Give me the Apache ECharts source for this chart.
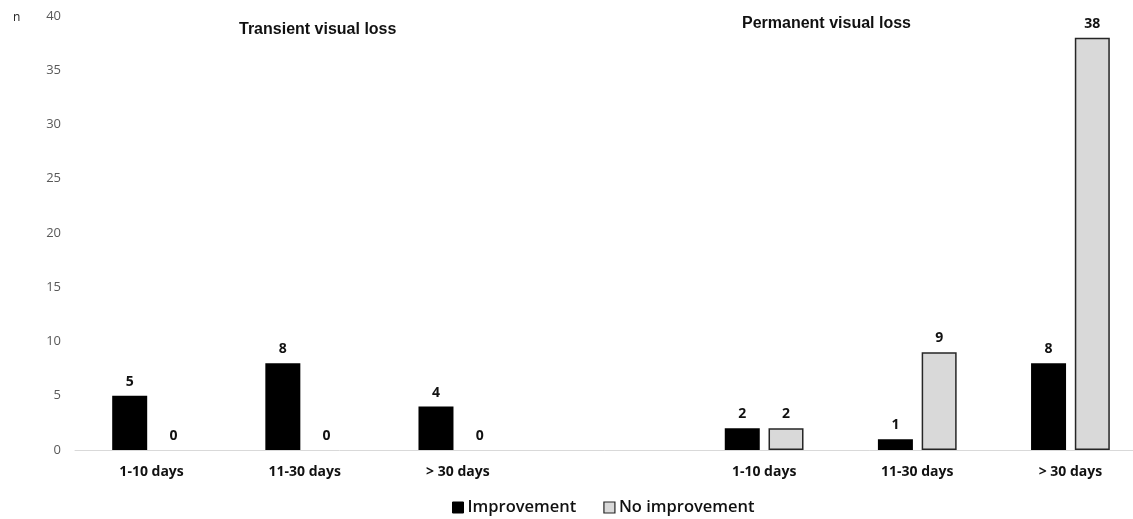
<!DOCTYPE html>
<html>
<head>
<meta charset="utf-8">
<script src="https://cdn.jsdelivr.net/npm/echarts@6/dist/echarts.min.js"></script>
<style>
html,body{margin:0;padding:0;background:#fff;}
#chart{width:1133px;height:519px;}
</style>
</head>
<body>
<div id="chart"></div>
<script>
var categories = ['1-10 days', '11-30 days', '> 30 days', '', '1-10 days', '11-30 days', '> 30 days'];
var improvement = [5, 8, 4, null, 2, 1, 8];
var noImprovement = [0, 0, 0, null, 2, 9, 38];
var yTicks = [0, 5, 10, 15, 20, 25, 30, 35, 40];
var groupTitles = ['Transient visual loss', 'Permanent visual loss'];

var chart = echarts.init(document.getElementById('chart'));
var labelStyle = {
  show: true, position: 'top', distance: 7,
  fontFamily: 'Open Sans', fontWeight: 'bold', fontSize: 14, color: '#111'
};
chart.setOption({
  animation: false,
  textStyle: { fontFamily: 'Open Sans' },
  grid: { left: 75, width: 1072, top: 16, bottom: 69, containLabel: false, outerBoundsMode: 'none' },
  title: [
    { text: groupTitles[0], left: 234, top: 17,
      textStyle: { fontFamily: 'Liberation Sans', fontWeight: 'bold', fontSize: 16, color: '#111' } },
    { text: groupTitles[1], left: 737, top: 11,
      textStyle: { fontFamily: 'Liberation Sans', fontWeight: 'bold', fontSize: 16, color: '#111' } },
    { text: 'n', left: 8, top: 7,
      textStyle: { fontFamily: 'Open Sans', fontWeight: 'normal', fontSize: 12, color: '#222' } }
  ],
  legend: {
    bottom: -2, left: 447, itemWidth: 11, itemHeight: 11, itemGap: 27,
    textStyle: { fontFamily: 'Open Sans', fontSize: 16.5, fontWeight: 600, color: '#111', padding: [0, 0, 0, -1] },
    data: [
      { name: 'Improvement', icon: 'rect', itemStyle: { color: '#000', borderColor: '#000', borderWidth: 1 } },
      { name: 'No improvement', icon: 'rect', itemStyle: { color: '#d9d9d9', borderColor: '#262626', borderWidth: 1.2 } }
    ]
  },
  xAxis: {
    type: 'category', data: categories,
    axisLine: { lineStyle: { color: '#d9d9d9', width: 1 } },
    axisTick: { show: false },
    axisLabel: { margin: 15, fontFamily: 'Open Sans', fontWeight: 'bold', fontSize: 14, color: '#111', interval: 0 }
  },
  yAxis: {
    type: 'value', min: yTicks[0], max: yTicks[yTicks.length - 1], interval: 5,
    axisLine: { show: false }, axisTick: { show: false }, splitLine: { show: false },
    axisLabel: { margin: 14, fontFamily: 'Open Sans', fontSize: 13, color: '#595959' }
  },
  series: [
    { name: 'Improvement', type: 'bar', barWidth: 35, barGap: '25%',
      data: improvement,
      itemStyle: { color: '#000' }, label: labelStyle },
    { name: 'No improvement', type: 'bar', barWidth: 35,
      data: noImprovement.map(function (v) {
        return v === 0 ? { value: v, itemStyle: { borderWidth: 0, color: 'rgba(0,0,0,0)' } } : v;
      }),
      itemStyle: { color: '#d9d9d9', borderColor: '#262626', borderWidth: 1.5 }, label: labelStyle }
  ]
});
</script>
</body>
</html>
